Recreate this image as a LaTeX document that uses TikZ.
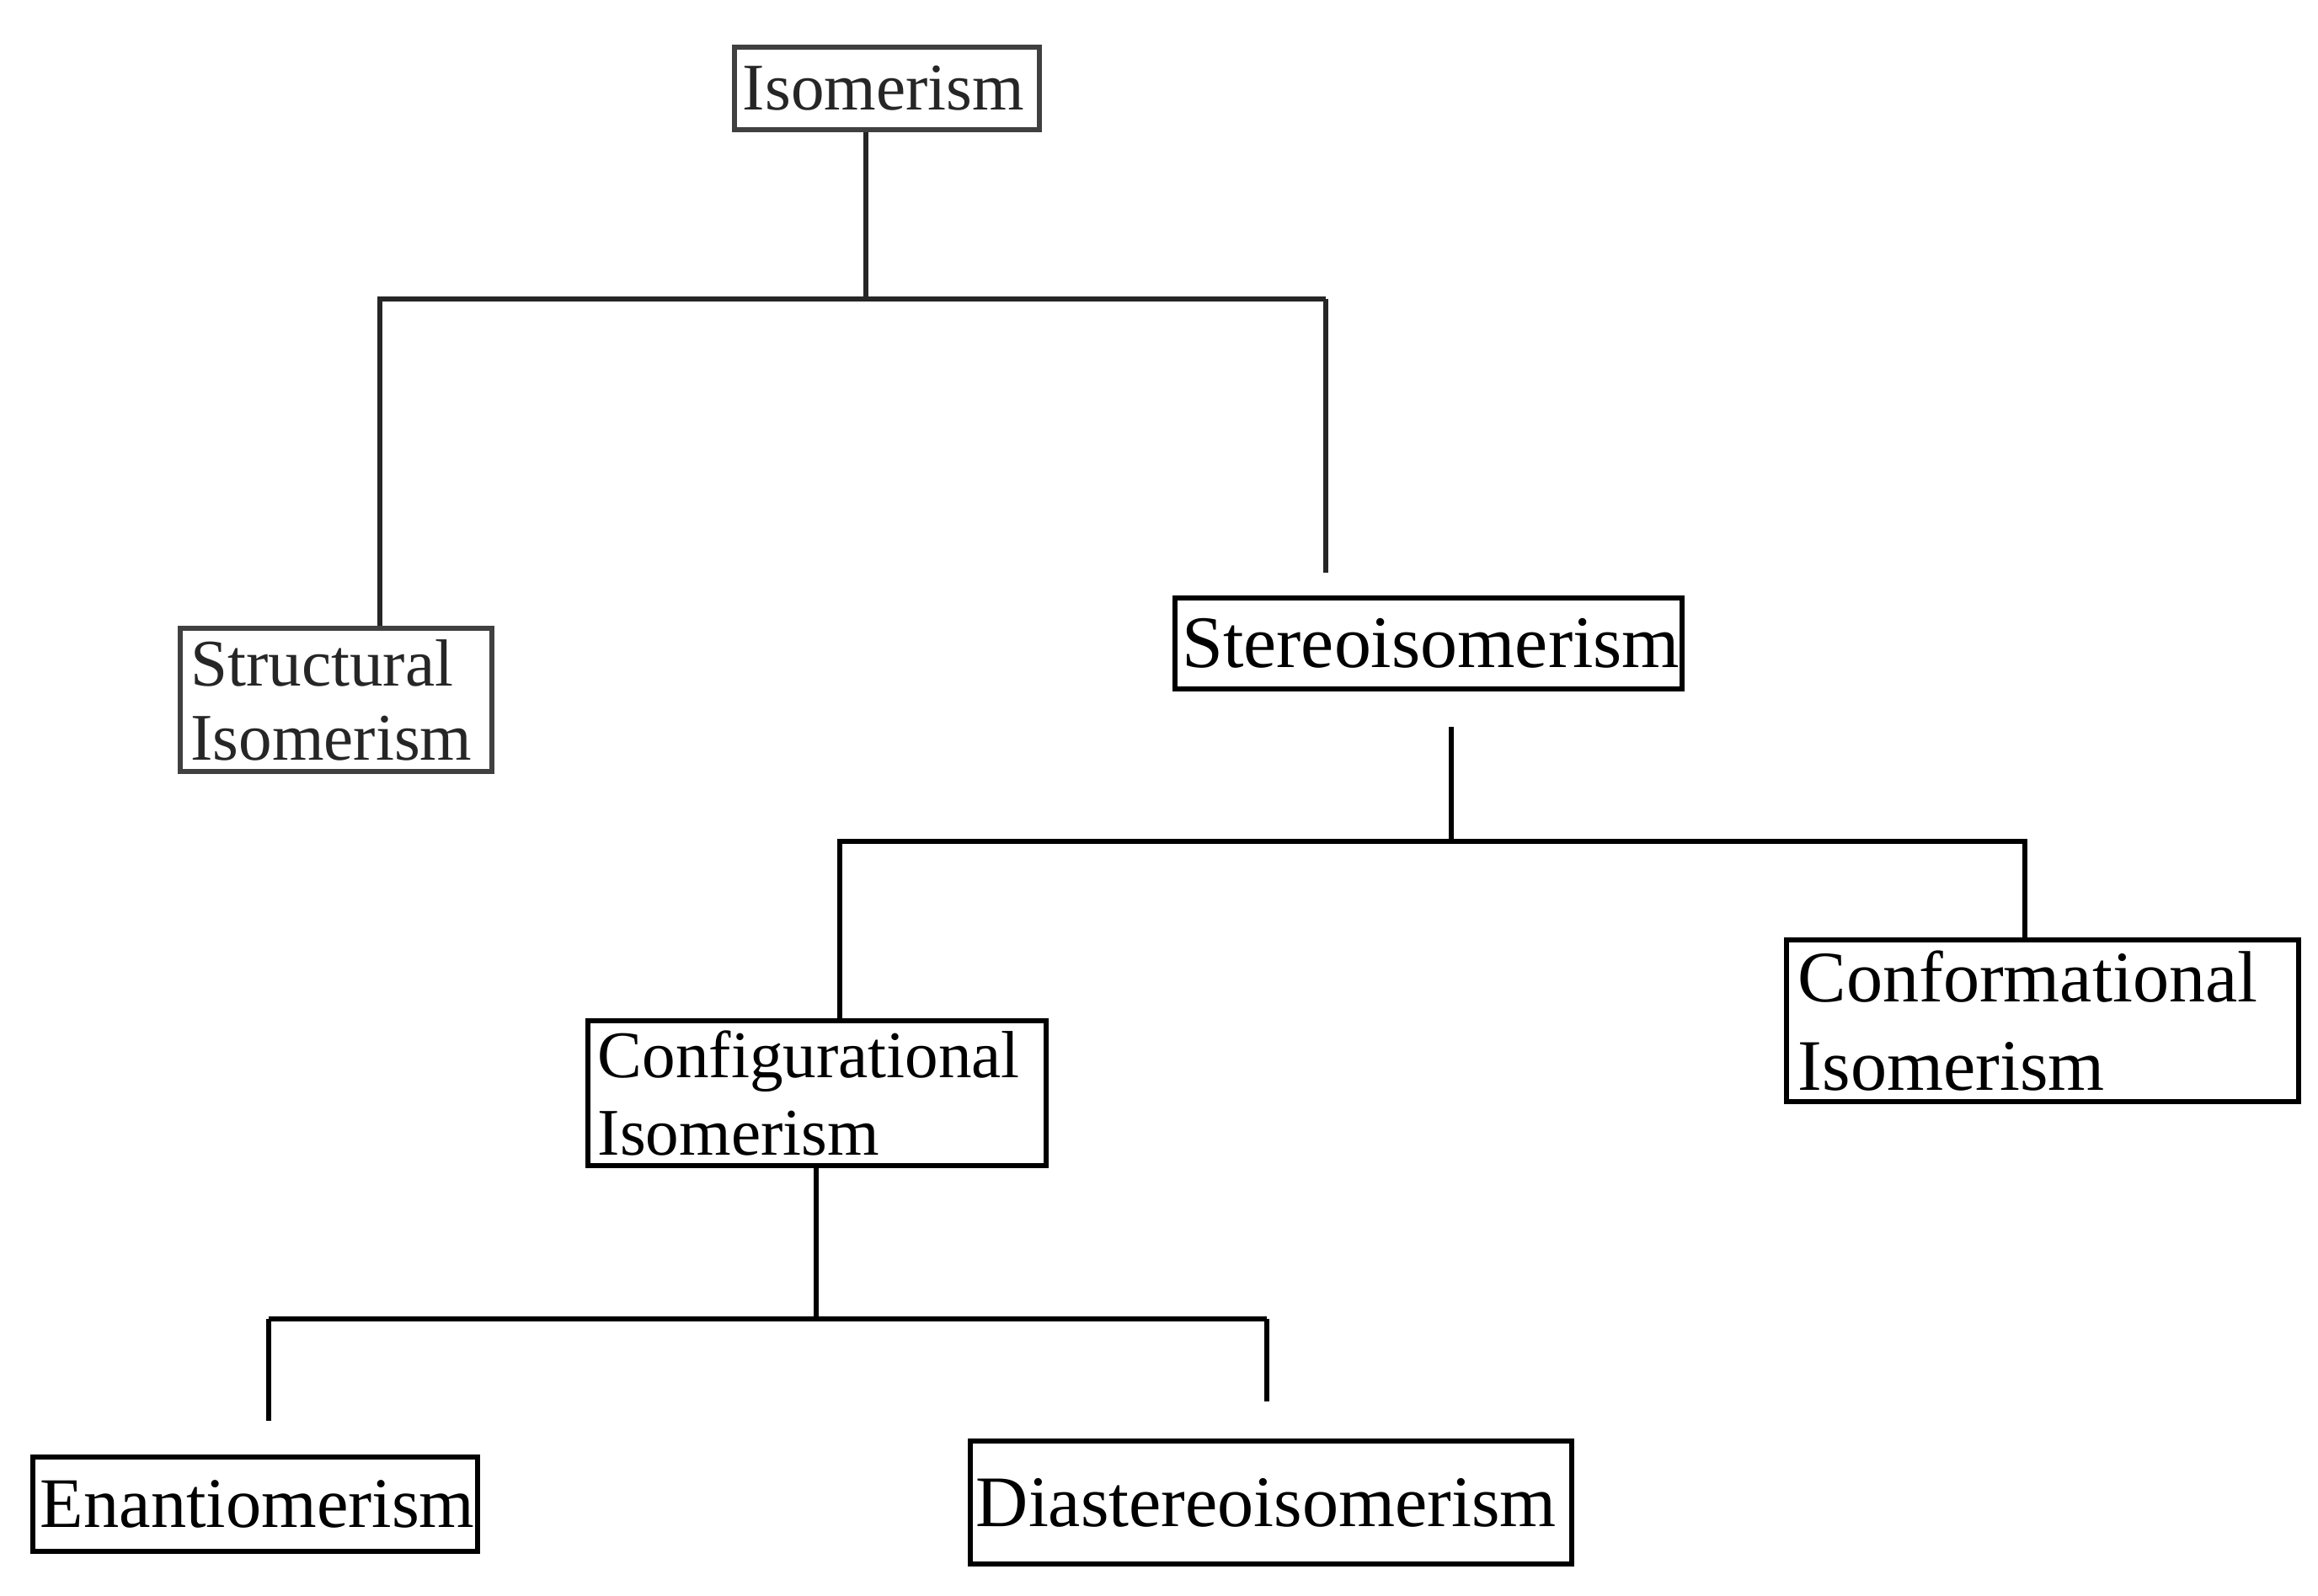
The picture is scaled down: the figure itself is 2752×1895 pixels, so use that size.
\documentclass[tikz,border=0pt]{standalone}
\usepackage{fontspec}
\setmainfont{Liberation Serif}
\begin{document}
\begin{tikzpicture}[x=0.01cm,y=-0.01cm,
  box/.style={draw, line width=1.7pt, inner sep=0pt, align=left},
  conn/.style={line width=1.9pt},
  faint/.style={draw=black!75, text=black!85}]
\useasboundingbox (0,0) rectangle (2752,1895);
% nodes
\node[box, faint, minimum width=3.62cm, minimum height=0.98cm, text width=3.42cm,
      font=\fontsize{22.5}{25}\selectfont] (iso) at (1053,105) {Isomerism};
\node[box, faint, minimum width=3.70cm, minimum height=1.70cm, text width=3.45cm,
      font=\fontsize{22.5}{25}\selectfont] (str) at (399,831) {Structural\\Isomerism};
\node[box, minimum width=6.02cm, minimum height=1.07cm, text width=5.85cm,
      font=\fontsize{25}{28}\selectfont] (ste) at (1696,764) {Stereoisomerism};
\node[box, minimum width=5.43cm, minimum height=1.72cm, text width=5.20cm,
      font=\fontsize{22.5}{26}\selectfont] (cfg) at (970,1298) {Configurational\\Isomerism};
\node[box, minimum width=6.07cm, minimum height=1.91cm, text width=5.80cm,
      font=\fontsize{24.5}{30}\selectfont] (cnf) at (2425,1212) {Conformational\\Isomerism};
\node[box, minimum width=5.28cm, minimum height=1.11cm, text width=5.10cm,
      font=\fontsize{24}{27}\selectfont] (ena) at (303,1786) {Enantiomerism};
\node[box, minimum width=7.13cm, minimum height=1.46cm, text width=7.00cm,
      font=\fontsize{24.5}{28}\selectfont] (dia) at (1509,1784) {Diastereoisomerism\\[0.3cm]};
% junction coordinates
\coordinate (t1) at (1028,355);
\coordinate (b1L) at (451,355);
\coordinate (b1R) at (1574,355);
\coordinate (t2) at (1723,999);
\coordinate (b2L) at (997,999);
\coordinate (b2R) at (2404,999);
\coordinate (t3) at (969,1566);
\coordinate (b3L) at (319,1566);
\coordinate (b3R) at (1504,1566);
% level 1
\draw[conn, black!85] (iso.south -| t1) -- (t1);
\draw[conn, black!85] (b1L |- str.north) -- (b1L) -- (b1R);
\draw[conn, black!85, shorten >=0.27cm] (b1R) -- (b1R |- ste.north);
% level 2
\draw[conn, shorten <=0.42cm] (ste.south -| t2) -- (t2);
\draw[conn] (b2L |- cfg.north) -- (b2L) -- (b2R) -- (b2R |- cnf.north);
% level 3
\draw[conn] (cfg.south -| t3) -- (t3);
\draw[conn, shorten >=0.40cm] (b3L) -- (b3L |- ena.north);
\draw[conn] (b3L) -- (b3R);
\draw[conn, shorten >=0.44cm] (b3R) -- (b3R |- dia.north);
\end{tikzpicture}
\end{document}
